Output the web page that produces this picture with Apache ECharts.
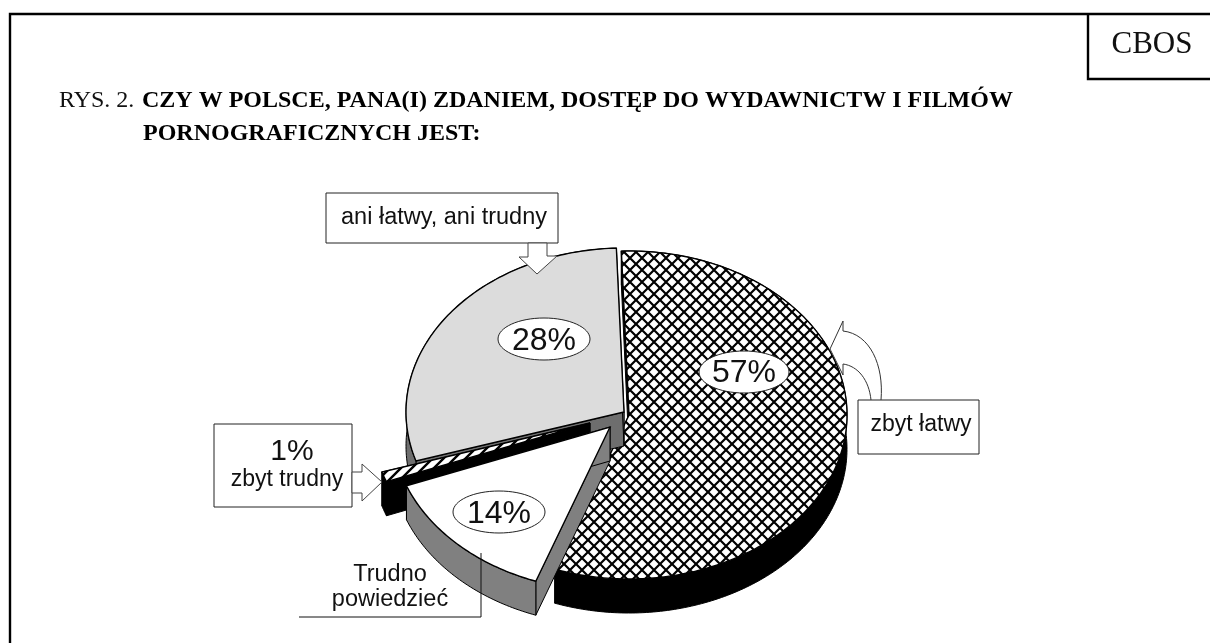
<!DOCTYPE html>
<html><head><meta charset="utf-8">
<style>html,body{margin:0;padding:0;background:#fff}#c{width:1210px;height:643px}</style>
<script src="https://cdn.jsdelivr.net/npm/echarts@6/dist/echarts.min.js"></script>
</head><body><div id="c"></div>
<script>
// ---- data ----
const categories = ['zbyt łatwy', 'Trudno powiedzieć', 'zbyt trudny', 'ani łatwy, ani trudny'];
const values = [57, 14, 1, 28];
const titleLead = 'RYS. 2. ';
const titleLine1 = 'CZY W POLSCE, PANA(I) ZDANIEM, DOSTĘP DO WYDAWNICTW I FILMÓW';
const titleLine2 = 'PORNOGRAFICZNYCH JEST:';

// ---- styling / layout of the exploded 3D pie ----
const RX = 218, RY = 164, DEPTH = 34, START = -2;
const apexX = [629, 610, 590, 624];
const apexY = [415, 427, 423, 412];
const rimFill = ['#000', '#808080', '#000', '#6e6e6e'];
const wallFill = ['#000', '#808080', '#000', '#6e6e6e'];
// slices back-to-front: hatched, grey, thin, white
const drawOrder = [0, 3, 2, 1];

function tile(size, draw) {
  const c = document.createElement('canvas');
  c.width = c.height = size;
  const x = c.getContext('2d');
  x.fillStyle = '#fff'; x.fillRect(0, 0, size, size);
  x.strokeStyle = '#000';
  draw(x, size);
  return c;
}
const crossTile = tile(12, (x, s) => {
  x.lineWidth = 2.2;
  x.beginPath();
  x.moveTo(-2, -2); x.lineTo(s + 2, s + 2);
  x.moveTo(s + 2, -2); x.lineTo(-2, s + 2);
  x.stroke();
});
const stripeTile = tile(11, (x, s) => {
  x.lineWidth = 2.4;
  x.beginPath();
  x.moveTo(-2, s + 2); x.lineTo(s + 2, -2);
  x.moveTo(-2, 2); x.lineTo(2, -2);
  x.moveTo(s - 2, s + 2); x.lineTo(s + 2, s - 2);
  x.stroke();
});
const topFill = [
  { image: crossTile, repeat: 'repeat' },
  '#ffffff',
  { image: stripeTile, repeat: 'repeat' },
  '#dcdcdc'
];

// the source's 3D projection shifts the drawn angle slightly around the circle
function warp(deg) { return deg - 0.95 + 3.65 * Math.cos((deg - 73) * Math.PI / 180); }
function pt(i, deg, dy) {
  const a = warp(deg) * Math.PI / 180;
  return [apexX[i] + RX * Math.sin(a), apexY[i] - RY * Math.cos(a) + (dy || 0)];
}
const total = values.reduce((a, b) => a + b, 0);

function renderSlice(params, api) {
  const i = params.dataIndex;
  const v = api.value(0);
  let before = 0;
  for (let k = 0; k < i; k++) before += values[k];
  const a0 = START + before / total * 360;
  const a1 = a0 + v / total * 360;
  const arc = [];
  const steps = Math.max(6, Math.ceil(a1 - a0));
  for (let s = 0; s <= steps; s++) arc.push(a0 + (a1 - a0) * s / steps);
  const top = arc.map(d => pt(i, d, 0));
  const low = arc.map(d => pt(i, d, DEPTH));
  const z = drawOrder[i] * 10;
  const ax = apexX[i], ay = apexY[i];
  const line = { stroke: '#000', lineWidth: 1 };
  const wall = (d) => ({
    type: 'polygon', z2: z + 1,
    shape: { points: [[ax, ay], pt(i, d, 0), pt(i, d, DEPTH), [ax, ay + DEPTH]] },
    style: Object.assign({ fill: wallFill[i] }, line)
  });
  return {
    type: 'group',
    children: [
      wall(a0), wall(a1),
      { type: 'polygon', z2: z + 2,
        shape: { points: top.concat(low.slice().reverse()) },
        style: Object.assign({ fill: rimFill[i] }, line) },
      { type: 'polygon', z2: z + 3,
        shape: { points: [[ax, ay]].concat(top) },
        style: { fill: topFill[i], stroke: '#000', lineWidth: 1.4, lineJoin: 'miter' } }
    ]
  };
}

const SANS = '"Liberation Sans", Arial, sans-serif';
const SERIF = '"Liberation Serif", "Times New Roman", serif';
const Z = 100;
// y is the text baseline
const txt = (x, y, text, size, opt) => ({
  type: 'text', z: Z + 2, x, y: y - 0.82 * size,
  style: Object.assign({ text, font: size + 'px ' + SANS, fill: '#111', textAlign: 'center', textBaseline: 'top' }, opt || {})
});
const rect = (x, y, w, h, lw, stroke) => ({
  type: 'rect', z: Z, shape: { x, y, width: w, height: h },
  style: { fill: '#fff', stroke: stroke || '#222', lineWidth: lw || 1 }
});
const poly = (points, stroke, fill) => ({
  type: 'polyline', z: Z + 1, shape: { points },
  style: { fill: fill || 'none', stroke: stroke || '#333', lineWidth: 1 }
});
const oval = (cx, cy, rx, ry) => ({
  type: 'ellipse', z: Z, shape: { cx, cy, rx, ry },
  style: { fill: '#fff', stroke: '#222', lineWidth: 1 }
});
const curve = (x1, y1, c1x, c1y, c2x, c2y, x2, y2) => ({
  type: 'bezierCurve', z: Z + 1,
  shape: { x1, y1, cpx1: c1x, cpy1: c1y, cpx2: c2x, cpy2: c2y, x2, y2 },
  style: { fill: 'none', stroke: '#333', lineWidth: 1 }
});

const graphics = [
  // frame
  { type: 'polyline', z: Z, shape: { points: [[10, 643], [10, 14], [1210, 14]] }, style: { fill: 'none', stroke: '#000', lineWidth: 2.4 } },
  { type: 'polyline', z: Z, shape: { points: [[1088, 14], [1088, 79], [1210, 79]] }, style: { fill: 'none', stroke: '#000', lineWidth: 2.4 } },
  txt(1152, 55, 'CBOS', 31, { font: '31px ' + SERIF }),
  // title
  txt(59, 108, titleLead, 24, { font: '24px ' + SERIF, textAlign: 'left' }),
  txt(142, 108, titleLine1, 24, { font: 'bold 24px ' + SERIF, textAlign: 'left', fill: '#000' }),
  txt(143, 141, titleLine2, 24, { font: 'bold 24px ' + SERIF, textAlign: 'left', fill: '#000' }),
  // label ovals
  oval(544, 339, 46, 21), txt(544, 351, values[3] + '%', 32),
  oval(744, 372, 45, 21), txt(744, 383, values[0] + '%', 32),
  oval(499, 512, 46, 21), txt(499, 524, values[1] + '%', 32),
  // ani łatwy box and arrow
  rect(326, 193, 232, 50), txt(444, 225, categories[3], 23.5),
  { type: 'polygon', z: Z + 1, shape: { points: [[528, 243], [528, 257], [519, 257], [537, 274], [557, 256], [547, 256], [547, 243]] }, style: { fill: '#fff', stroke: '#444', lineWidth: 1 } },
  // 1% box and arrow
  rect(214, 424, 138, 83), txt(292, 461, values[2] + '%', 30), txt(287, 487, categories[2], 23),
  { type: 'polygon', z: Z + 1, shape: { points: [[352, 472], [362, 472], [362, 464], [382, 482], [362, 501], [362, 493], [352, 493]] }, style: { fill: '#fff', stroke: '#444', lineWidth: 1 } },
  // Trudno powiedzieć leader
  poly([[299, 617], [481, 617], [481, 553]], '#111'),
  txt(390, 582, 'Trudno', 23.5), txt(390, 607, 'powiedzieć', 23.5),
  // zbyt łatwy box and curved arrow
  curve(881, 400, 884, 365, 870, 334, 843, 331),
  curve(871, 400, 869, 380, 858, 366, 843, 364),
  poly([[843, 331], [843, 321], [830, 349], [843, 375], [843, 364]], '#333', '#fff'),
  rect(858, 400, 121, 54), txt(921, 432, categories[0], 23)
];

const chart = echarts.init(document.getElementById('c'), null, { renderer: 'canvas' });
chart.setOption({
  animation: false,
  backgroundColor: '#ffffff',
  tooltip: { show: false },
  series: [{
    type: 'custom',
    coordinateSystem: 'none',
    z: 1,
    silent: true,
    data: values.map((v, i) => ({ name: categories[i], value: [v] })),
    renderItem: renderSlice
  }],
  graphic: { elements: graphics }
});
</script></body></html>
